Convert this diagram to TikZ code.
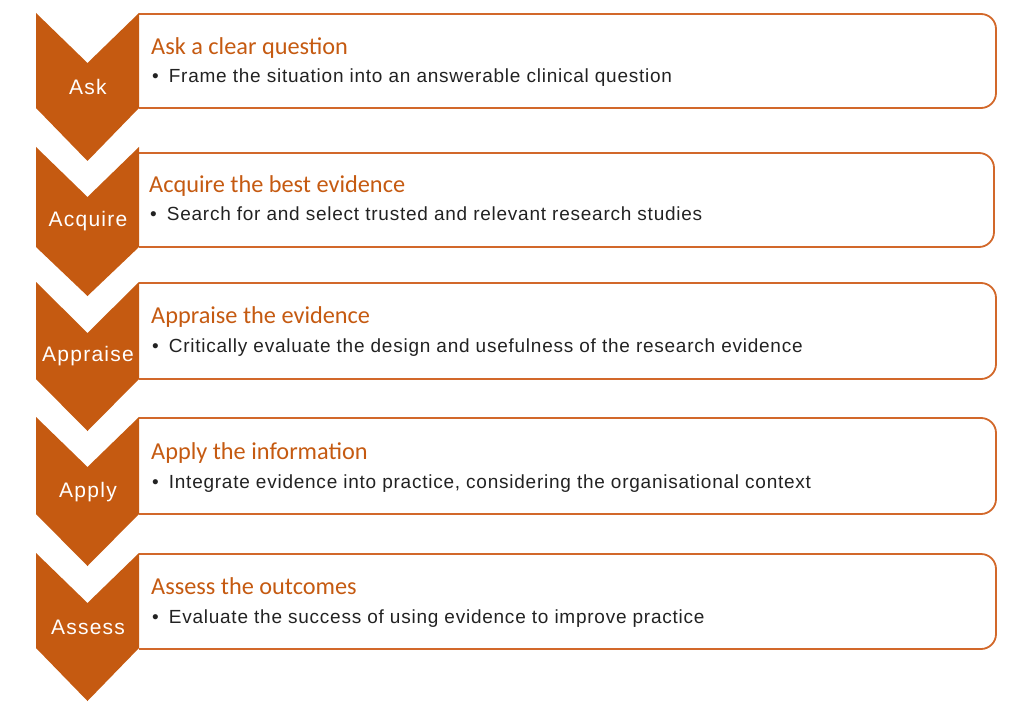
\documentclass[tikz,border=0pt]{standalone}
\usepackage{fontspec}
\setmainfont{Liberation Sans}[LetterSpace=4]
\newfontfamily\headfont{Carlito}
\newfontfamily\labelfont{Liberation Sans}[LetterSpace=6]
\definecolor{chevfill}{HTML}{C55A11}
\definecolor{boxedge}{HTML}{D2682A}
\definecolor{bodytext}{HTML}{222222}
\begin{document}
\begin{tikzpicture}[x=1pt,y=-1pt,
  chev/.style={fill=chevfill, draw=none},
  stepbox/.style={draw=boxedge, line width=1.8pt, rounded corners=15pt},
  steplabel/.style={text=white, font=\labelfont\fontsize{21}{24}\selectfont},
  steptitle/.style={anchor=base west, inner sep=0pt, text=chevfill, font=\headfont\fontsize{24.3}{27}\selectfont},
  stepbody/.style={anchor=base west, inner sep=0pt, text=bodytext, font=\fontsize{19}{22}\selectfont}]
\useasboundingbox (0,0) rectangle (1024,714);
% boxes first, chevrons on top
\draw[stepbox] (139,14)--(996,14)--(996,108)--(139,108);
\draw[stepbox] (139,153)--(994,153)--(994,247)--(139,247);
\draw[stepbox] (139,283)--(996,283)--(996,379)--(139,379);
\draw[stepbox] (139,418)--(996,418)--(996,514)--(139,514);
\draw[stepbox] (139,554)--(996,554)--(996,649)--(139,649);
% chevrons
\fill[chev] (36,13)--(87.5,63)--(139,13)--(139,108)--(87.5,161)--(36,108)--cycle;
\fill[chev] (36,147)--(87.5,197)--(139,147)--(139,247)--(87.5,296)--(36,247)--cycle;
\fill[chev] (36,282)--(87.5,333)--(139,282)--(139,379)--(87.5,431)--(36,379)--cycle;
\fill[chev] (36,417)--(87.5,467)--(139,417)--(139,514)--(87.5,566)--(36,514)--cycle;
\fill[chev] (36,553)--(87.5,603)--(139,553)--(139,648)--(87.5,701)--(36,648)--cycle;
% labels on the chevrons
\node[steplabel] (ask) at (88,87) {Ask};
\node[steplabel] (acquire) at (88,221) {Acquire};
\node[steplabel] (appraise) at (88,356) {Appraise};
\node[steplabel] (apply) at (88,492) {Apply};
\node[steplabel] (assess) at (88,627) {Assess};
% titles and bullets
\node[steptitle] (asktitle) at (151,55) {Ask a clear question};
\node[stepbody] (askbody) at (152,83) {\textbullet\hspace{10pt}Frame the situation into an answerable clinical question};
\node[steptitle] (acquiretitle) at (149,193) {Acquire the best evidence};
\node[stepbody] (acquirebody) at (150,220) {\textbullet\hspace{10pt}Search for and select trusted and relevant research studies};
\node[steptitle] (appraisetitle) at (151,323) {Appraise the evidence};
\node[stepbody] (appraisebody) at (152,352) {\textbullet\hspace{10pt}Critically evaluate the design and usefulness of the research evidence};
\node[steptitle] (applytitle) at (151,459) {Apply the information};
\node[stepbody] (applybody) at (152,488) {\textbullet\hspace{10pt}Integrate evidence into practice, considering the organisational context};
\node[steptitle] (assesstitle) at (151,594) {Assess the outcomes};
\node[stepbody] (assessbody) at (152,623) {\textbullet\hspace{10pt}Evaluate the success of using evidence to improve practice};
\end{tikzpicture}
\end{document}
